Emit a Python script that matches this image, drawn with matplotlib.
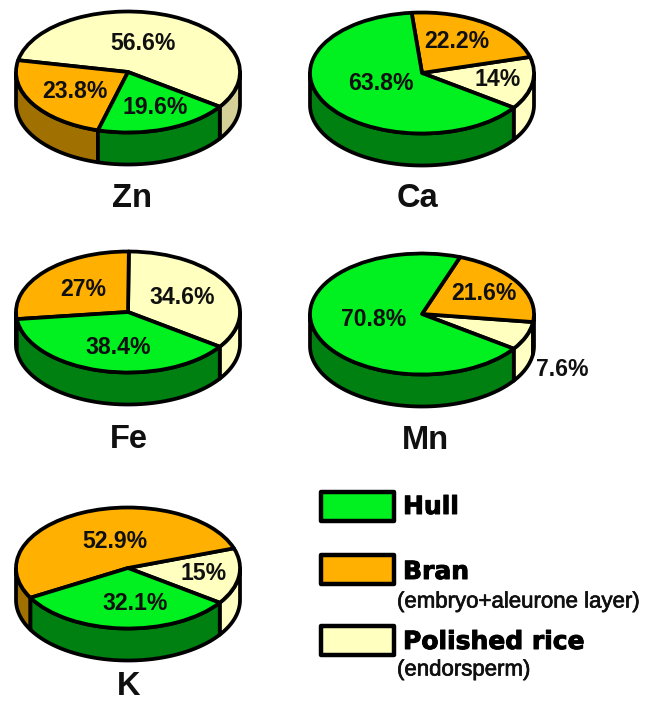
"""
plot.py
Element distribution in the rice grain: five fake-3D pies plus a hand made legend.
Output: out.png
"""
import numpy as np
import matplotlib
matplotlib.use("Agg")
import matplotlib.pyplot as plt
import matplotlib.patheffects as pe
from matplotlib.patches import Polygon, Rectangle

W, H = 653, 701

# slice order is polished rice, bran, hull (counter clockwise)
zn_values = [56.6, 23.8, 19.6]
ca_values = [14, 22.2, 63.8]
fe_values = [34.6, 27, 38.4]
mn_values = [7.6, 21.6, 70.8]
k_values = [15, 52.9, 32.1]

zn_labels = ["56.6%", "23.8%", "19.6%"]
ca_labels = ["14%", "22.2%", "63.8%"]
fe_labels = ["34.6%", "27%", "38.4%"]
mn_labels = ["7.6%", "21.6%", "70.8%"]
k_labels = ["15%", "52.9%", "32.1%"]

TOP_COLORS = ["#FFFFC0", "#FFB000", "#00F020"]
SIDE_COLORS = ["#FFFFC4", "#A07000", "#008010"]
ZN_SIDE_COLORS = ["#D4D098", "#A07000", "#008010"]

START = -35
RX, RY, DEPTH = 112, 60.5, 32
LW = 2.7

# name, values, labels, centre, side colours, label pixel positions, title pixel position (baseline)
pies = [
    ("Zn", zn_values, zn_labels, (128, 72), ZN_SIDE_COLORS,
     [(143, 43), (75, 92), (155, 108)], (132, 207)),
    ("Ca", ca_values, ca_labels, (422, 73), SIDE_COLORS,
     [(498, 79), (457, 42), (381, 84)], (417, 207)),
    ("Fe", fe_values, fe_labels, (128, 312), SIDE_COLORS,
     [(182, 298), (83, 290), (118, 348)], (129, 448)),
    ("Mn", mn_values, mn_labels, (422, 314), SIDE_COLORS,
     [(562, 370), (484, 294), (374, 320)], (425, 449)),
    ("K", k_values, k_labels, (128, 568), SIDE_COLORS,
     [(204, 574), (115, 542), (135, 603)], (129, 695)),
]

fig = plt.figure(figsize=(W / 100, H / 100), dpi=100, facecolor="white")


def draw_pie(values, center, side_colors):
    cx, cy = center
    ax = fig.add_axes([(cx - RX) / W, 1 - (cy + RY + DEPTH) / H, 2 * RX / W, (2 * RY + DEPTH) / H])
    wedges, _ = ax.pie(values, colors=TOP_COLORS, startangle=START, radius=1,
                       wedgeprops=dict(edgecolor="black", linewidth=LW, joinstyle="round"))
    for w in wedges:
        w.set_clip_on(False)
        w.set_zorder(3)
    ax.set_aspect("auto")
    ax.set_xlim(-1, 1)
    ax.set_ylim(-1 - DEPTH / RY, 1)

    # side wall: only the front half of each slice shows
    edges = START + np.cumsum([0] + list(values)) * 360 / sum(values)
    for a, b, col in zip(edges[:-1], edges[1:], side_colors):
        for lo, hi in [(-180, 0), (180, 360)]:
            t0, t1 = max(a, lo), min(b, hi)
            if t1 <= t0:
                continue
            t = np.radians(np.linspace(t0, t1, 80))
            x, y = np.cos(t), np.sin(t)
            pts = np.r_[np.c_[x, y], np.c_[x, y - DEPTH / RY][::-1]]
            ax.add_patch(Polygon(pts, closed=True, facecolor=col, edgecolor="black",
                                 linewidth=LW, joinstyle="round", clip_on=False, zorder=2))


for name, values, labels, center, side_colors, label_pos, title_pos in pies:
    draw_pie(values, center, side_colors)

# overlay in pixel coordinates for text and the legend
over = fig.add_axes([0, 0, 1, 1], facecolor="none")
over.set_xlim(0, W)
over.set_ylim(H, 0)
over.axis("off")

for name, values, labels, center, side_colors, label_pos, title_pos in pies:
    for txt, (x, y) in zip(labels, label_pos):
        over.text(x, y, txt, ha="center", va="center", fontsize=16.6, fontweight="bold",
                  family="Liberation Sans", color="#101010")
    over.text(title_pos[0], title_pos[1], name, ha="center", va="baseline", fontsize=23.5,
              fontweight="bold", family="Liberation Sans", color="#101010")

# ----- legend -----
legend_names = ["Hull", "Bran", "Polished rice"]
legend_notes = ["", "(embryo+aleurone layer)", "(endorsperm)"]
legend_colors = [TOP_COLORS[2], TOP_COLORS[1], TOP_COLORS[0]]
box_y = [490, 553, 624]
name_y = [507, 572, 642]
note_y = [0, 602, 670]
thick = [pe.withStroke(linewidth=0.7, foreground="black")]
thin = [pe.withStroke(linewidth=0.5, foreground="#101010")]

for i, label in enumerate(legend_names):
    over.add_patch(Rectangle((321, box_y[i] + 2), 73, 29, facecolor=legend_colors[i],
                             edgecolor="black", linewidth=3.2, joinstyle="round"))
    over.text(403, name_y[i], label, ha="left", va="center", fontsize=18, fontweight="bold",
              family="DejaVu Sans", color="black", path_effects=thick)
    if legend_notes[i]:
        over.text(397, note_y[i], legend_notes[i], ha="left", va="center", fontsize=16,
                  family="Liberation Sans", color="#101010", path_effects=thin)

fig.savefig("out.png", dpi=100)
plt.close(fig)
print("Saved out.png")
